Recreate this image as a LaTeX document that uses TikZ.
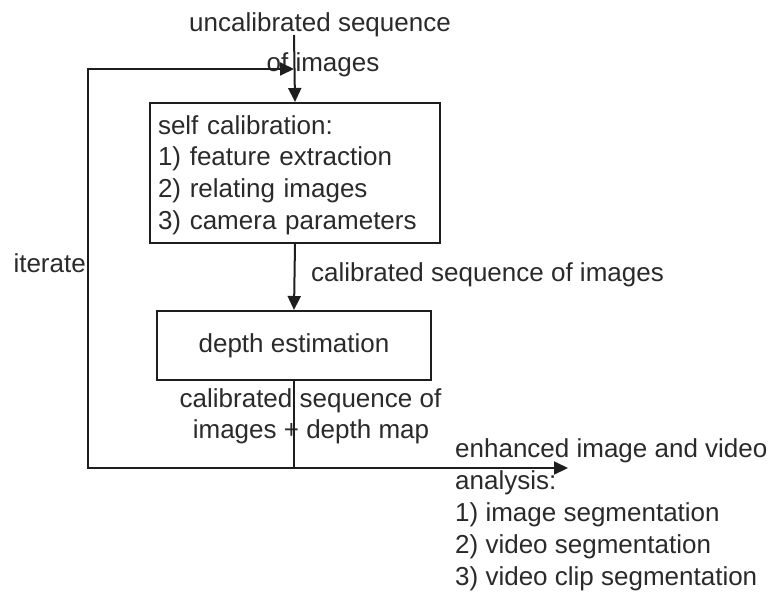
\documentclass[tikz,border=0pt]{standalone}
\usepackage{fontspec}
\setmainfont{Liberation Sans}
\usetikzlibrary{arrows.meta}
\definecolor{txt}{HTML}{2A2A2A}
\definecolor{ln}{HTML}{1E1E1E}
\begin{document}
\begin{tikzpicture}[x=1pt,y=-1pt,
  every node/.style={font=\fontsize{26}{31.7}\selectfont, text=txt},
  lbl/.style={inner sep=0pt, anchor=base west},
  clbl/.style={inner sep=0pt, anchor=base},
  procbox/.style={draw=ln, line width=2pt, inner sep=0pt},
  conn/.style={draw=ln, line width=2pt},
  arr/.style={conn, -{Triangle[length=14pt,width=13pt]}}
]
\useasboundingbox (0,0) rectangle (776,595);
% texts
\node[clbl] (in1) at (320,31) {uncalibrated sequence};
\node[clbl] (in2) at (323,71) {of images};
\node[procbox, anchor=north west, minimum width=290pt, minimum height=140pt,
      text width=274pt, align=left, inner xsep=8pt] (sc) at (149,102)
  {\rule{0pt}{23pt}self calibration:\\1) feature extraction\\2) relating images\\3) camera parameters};
\node[procbox, minimum width=274pt, minimum height=69pt] (de) at (294,345.5) {depth estimation};
\node[lbl] (cal) at (311,281) {calibrated sequence of images};
\node[clbl] (cd1) at (310.5,407) {calibrated sequence of};
\node[clbl] (cd2) at (311,438) {images + depth map};
\node[lbl, anchor=base east] (it) at (86,272) {iterate};
\node[lbl] (o1) at (455,457) {enhanced image and video};
\node[lbl] (o2) at (455,489) {analysis:};
\node[lbl] (o3) at (455,521) {1) image segmentation};
\node[lbl] (o4) at (455,553) {2) video segmentation};
\node[lbl] (o5) at (455,585) {3) video clip segmentation};
% coordinates
\coordinate (top) at (294,35);
\coordinate (j) at (294,468);
\coordinate (bl) at (88,468);
\coordinate (tl) at (88,69);
\coordinate (tip) at (294,69);
\coordinate (out) at (568,468);
% connectors
\draw[arr] (top) -- (sc.north);
\draw[arr] (sc.south) -- (de.north);
\draw[conn] (de.south) -- (j);
\draw[arr] (bl) -- (tl) -- (tip);
\draw[arr, shorten <=-1pt] (bl) -- (out);
\end{tikzpicture}
\end{document}
